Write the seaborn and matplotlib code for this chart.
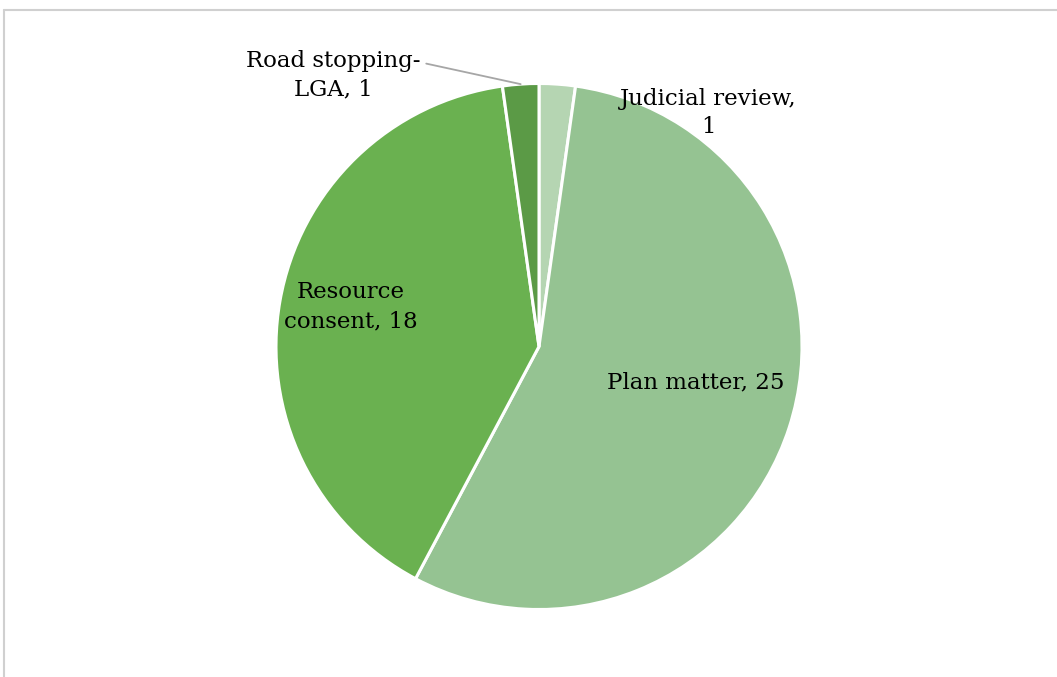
import matplotlib
matplotlib.use("Agg")
import matplotlib.pyplot as plt
import seaborn as sns
import numpy as np

categories = ["Judicial review", "Plan matter", "Resource consent", "Road stopping-\nLGA"]
values = [1, 25, 18, 1]
label_texts = ["Judicial review,\n1", "Plan matter, 25", "Resource\nconsent, 18", "Road stopping-\nLGA, 1"]
colors = ["#b5d5b2", "#95c392", "#6ab150", "#5b9a46"]

sns.set_theme(style="white")
plt.rcParams['font.family'] = ['DejaVu Serif']

W, H = 1057, 677
fig = plt.figure(figsize=(W / 100, H / 100), dpi=100)
ax = fig.add_axes([0, 0, 1, 1])
ax.set_xlim(0, W)
ax.set_ylim(0, H)
ax.set_aspect('equal')
ax.axis('off')

cx, cy, R = 539, H - 346.5, 263
wedges, _ = ax.pie(values, colors=colors, startangle=90, counterclock=False,
                   center=(cx, cy), radius=R, frame=True,
                   wedgeprops=dict(edgecolor='white', linewidth=2.2))
ax.set_xlim(0, W)
ax.set_ylim(0, H)
ax.axis('off')

fs = 16.5
ls = 1.4
# inside labels by wedge angle
inside = {1: (0.61, 5), 2: (0.73, -2)}
for i, (dist, dang) in inside.items():
    w = wedges[i]
    ang = np.deg2rad((w.theta1 + w.theta2) / 2 + dang)
    x = cx + dist * R * np.cos(ang)
    y = cy + dist * R * np.sin(ang)
    ax.text(x, y, label_texts[i], ha='center', va='center', fontsize=fs,
            color='black', linespacing=ls)

# Judicial review label (outside, overlapping edge)
ax.text(708, H - 113, label_texts[0], ha='center', va='center', fontsize=fs,
        color='black', linespacing=ls)

# Road stopping label with leader line
w = wedges[3]
ang = np.deg2rad((w.theta1 + w.theta2) / 2)
px = cx + R * np.cos(ang)
py = cy + R * np.sin(ang)
ax.annotate(label_texts[3], xy=(px, py), xytext=(333, H - 75),
            ha='center', va='center', fontsize=fs, color='black', linespacing=ls,
            arrowprops=dict(arrowstyle='-', color='#a6a6a6', lw=1.3,
                            relpos=(1.0, 0.75), shrinkA=2, shrinkB=0))

# chart border
fig.add_artist(plt.Line2D([4 / W, 4 / W], [0, 1 - 9.5 / H], transform=fig.transFigure,
                          color='#d0d0d0', lw=1.5))
fig.add_artist(plt.Line2D([4 / W, 1], [1 - 9.5 / H, 1 - 9.5 / H], transform=fig.transFigure,
                          color='#d0d0d0', lw=1.5))

fig.savefig("out.png", dpi=100, facecolor='white')
